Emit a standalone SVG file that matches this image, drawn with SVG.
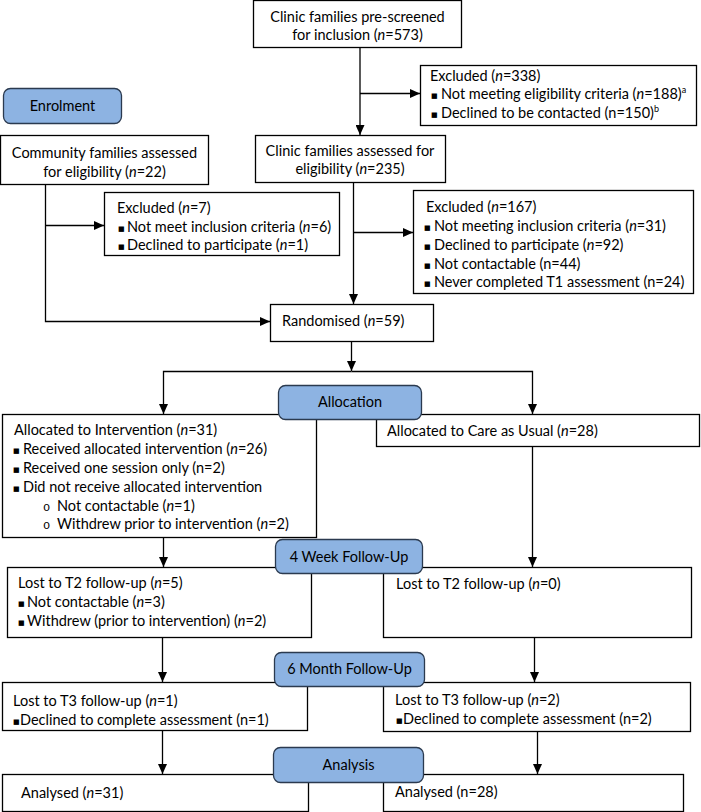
<svg xmlns="http://www.w3.org/2000/svg" width="701" height="812" viewBox="0 0 701 812">
<defs>
<marker id="arr" markerUnits="userSpaceOnUse" markerWidth="10" markerHeight="9" refX="10" refY="4.5" orient="auto">
<path d="M0,0 L10,4.5 L0,9 z" fill="#000"/>
</marker>
<style>
.box{fill:#fff;stroke:#000;stroke-width:1.3}
.stage{fill:#8db3e2;stroke:#2b3a4f;stroke-width:1.3}
.t{font-family:Lato,"Liberation Sans",sans-serif;font-size:14.5px;fill:#000}
.c{text-anchor:middle}
.b{font-family:"DejaVu Sans",sans-serif;font-size:7px}
.o{font-family:"Liberation Mono",monospace;font-size:12px}
.sup{font-size:9px}
.con{fill:none;stroke:#000;stroke-width:1.3;marker-end:url(#arr)}
</style>
</defs>
<rect width="701" height="812" fill="#fff"/>

<g id="prescreened">
<rect class="box" x="253.5" y="0.5" width="208" height="47"/>
<text class="t c" x="357.5" y="22">Clinic families pre-screened</text>
<text class="t c" x="357.5" y="40">for inclusion (<tspan font-style="italic">n</tspan>=573)</text>
</g>

<g id="excluded338">
<rect class="box" x="420.5" y="65.5" width="276" height="60"/>
<text class="t" x="430" y="81">Excluded (<tspan font-style="italic">n</tspan>=338)</text>
<text class="t" y="99"><tspan class="b" x="431" baseline-shift="1.5">■</tspan><tspan x="441">Not meeting eligibility criteria (<tspan font-style="italic">n</tspan>=188)</tspan><tspan class="sup" dy="-6">a</tspan></text>
<text class="t" y="118"><tspan class="b" x="431" baseline-shift="1.5">■</tspan><tspan x="441">Declined to be contacted (n=150)</tspan><tspan class="sup" dy="-6">b</tspan></text>
</g>

<g id="community">
<rect class="box" x="0.5" y="135.5" width="208" height="49"/>
<text class="t c" x="104.5" y="158">Community families assessed</text>
<text class="t c" x="104.5" y="177">for eligibility (<tspan font-style="italic">n</tspan>=22)</text>
</g>

<g id="clinicassessed">
<rect class="box" x="255.5" y="135.5" width="190" height="47"/>
<text class="t c" x="350" y="156">Clinic families assessed for</text>
<text class="t c" x="350" y="174">eligibility (<tspan font-style="italic">n</tspan>=235)</text>
</g>

<g id="excluded7">
<rect class="box" x="104.5" y="192.5" width="235" height="63"/>
<text class="t" x="117" y="213">Excluded (<tspan font-style="italic">n</tspan>=7)</text>
<text class="t" y="232"><tspan class="b" x="118" baseline-shift="1.5">■</tspan><tspan x="127">Not meet inclusion criteria (<tspan font-style="italic">n</tspan>=6)</tspan></text>
<text class="t" y="250"><tspan class="b" x="118" baseline-shift="1.5">■</tspan><tspan x="127">Declined to participate (<tspan font-style="italic">n</tspan>=1)</tspan></text>
</g>

<g id="excluded167">
<rect class="box" x="413.5" y="190.5" width="280" height="103"/>
<text class="t" x="426" y="212">Excluded (<tspan font-style="italic">n</tspan>=167)</text>
<text class="t" y="231"><tspan class="b" x="424" baseline-shift="1.5">■</tspan><tspan x="434">Not meeting inclusion criteria (<tspan font-style="italic">n</tspan>=31)</tspan></text>
<text class="t" y="250"><tspan class="b" x="424" baseline-shift="1.5">■</tspan><tspan x="434">Declined to participate (<tspan font-style="italic">n</tspan>=92)</tspan></text>
<text class="t" y="269"><tspan class="b" x="424" baseline-shift="1.5">■</tspan><tspan x="434">Not contactable (n=44)</tspan></text>
<text class="t" y="287"><tspan class="b" x="424" baseline-shift="1.5">■</tspan><tspan x="434">Never completed T1 assessment (n=24)</tspan></text>
</g>

<g id="randomised">
<rect class="box" x="270.5" y="304.5" width="163" height="37"/>
<text class="t" x="282" y="326">Randomised (<tspan font-style="italic">n</tspan>=59)</text>
</g>

<g id="intervention">
<rect class="box" x="2.5" y="414.5" width="314" height="123"/>
<text class="t" x="14" y="435">Allocated to Intervention (<tspan font-style="italic">n</tspan>=31)</text>
<text class="t" y="454"><tspan class="b" x="13" baseline-shift="1.5">■</tspan><tspan x="23">Received allocated intervention (<tspan font-style="italic">n</tspan>=26)</tspan></text>
<text class="t" y="473"><tspan class="b" x="13" baseline-shift="1.5">■</tspan><tspan x="23">Received one session only (n=2)</tspan></text>
<text class="t" y="492"><tspan class="b" x="13" baseline-shift="1.5">■</tspan><tspan x="23">Did not receive allocated intervention</tspan></text>
<text class="t" y="511"><tspan class="o" x="43">o</tspan><tspan x="57">Not contactable (<tspan font-style="italic">n</tspan>=1)</tspan></text>
<text class="t" y="529"><tspan class="o" x="43">o</tspan><tspan x="57">Withdrew prior to intervention (<tspan font-style="italic">n</tspan>=2)</tspan></text>
</g>

<g id="careasusual">
<rect class="box" x="376.5" y="414.5" width="323" height="32"/>
<text class="t" x="387" y="436">Allocated to Care as Usual (<tspan font-style="italic">n</tspan>=28)</text>
</g>

<g id="t2left">
<rect class="box" x="7.5" y="567.5" width="304" height="70"/>
<text class="t" x="18" y="588">Lost to T2 follow-up (<tspan font-style="italic">n</tspan>=5)</text>
<text class="t" y="607"><tspan class="b" x="18" baseline-shift="1.5">■</tspan><tspan x="27">Not contactable (<tspan font-style="italic">n</tspan>=3)</tspan></text>
<text class="t" y="626"><tspan class="b" x="18" baseline-shift="1.5">■</tspan><tspan x="27">Withdrew (prior to intervention) (<tspan font-style="italic">n</tspan>=2)</tspan></text>
</g>

<g id="t2right">
<rect class="box" x="383.5" y="567.5" width="308" height="70"/>
<text class="t" x="396" y="589">Lost to T2 follow-up (<tspan font-style="italic">n</tspan>=0)</text>
</g>

<g id="t3left">
<rect class="box" x="2.5" y="682.5" width="305" height="48"/>
<text class="t" x="13" y="706">Lost to T3 follow-up (<tspan font-style="italic">n</tspan>=1)</text>
<text class="t" y="725"><tspan class="b" x="13" baseline-shift="1.5">■</tspan><tspan x="20">Declined to complete assessment (n=1)</tspan></text>
</g>

<g id="t3right">
<rect class="box" x="383.5" y="682.5" width="307" height="49"/>
<text class="t" x="395" y="705">Lost to T3 follow-up (<tspan font-style="italic">n</tspan>=2)</text>
<text class="t" y="724"><tspan class="b" x="396" baseline-shift="1.5">■</tspan><tspan x="403">Declined to complete assessment (n=2)</tspan></text>
</g>

<g id="analysedleft">
<rect class="box" x="2.5" y="774.5" width="306" height="37"/>
<text class="t" x="21" y="798">Analysed (<tspan font-style="italic">n</tspan>=31)</text>
</g>

<g id="analysedright">
<rect class="box" x="383.5" y="774.5" width="300" height="37"/>
<text class="t" x="395" y="797">Analysed (n=28)</text>
</g>

<g id="connectors">
<path class="con" d="M360,47.5 V135"/>
<path class="con" d="M360,93.5 H420"/>
<path class="con" d="M45.5,184.5 V321.5 H270"/>
<path class="con" d="M45.5,225.5 H104"/>
<path class="con" d="M353.5,182.5 V304"/>
<path class="con" d="M353.5,232.5 H413"/>
<path class="con" d="M351.5,341.5 V371"/>
<path class="con" d="M351.5,371.5 H163.5 V414"/>
<path class="con" d="M351.5,371.5 H532.5 V414"/>
<path class="con" d="M163.5,537.5 V567"/>
<path class="con" d="M532.5,446.5 V567"/>
<path class="con" d="M162.5,637.5 V682"/>
<path class="con" d="M534.5,637.5 V682"/>
<path class="con" d="M162.5,730.5 V774"/>
<path class="con" d="M537.5,731.5 V774"/>
</g>

<g id="enrolment">
<rect class="stage" x="3.5" y="88.5" width="118" height="35" rx="7"/>
<text class="t c" x="62.5" y="111">Enrolment</text>
</g>
<g id="allocation">
<rect class="stage" x="278.5" y="385.5" width="143" height="34" rx="7"/>
<text class="t c" x="350" y="407">Allocation</text>
</g>
<g id="week4">
<rect class="stage" x="275.5" y="539.5" width="147" height="34" rx="7"/>
<text class="t c" x="349" y="562">4 Week Follow-Up</text>
</g>
<g id="month6">
<rect class="stage" x="274.5" y="652.5" width="150" height="34" rx="7"/>
<text class="t c" x="349.5" y="674">6 Month Follow-Up</text>
</g>
<g id="analysis">
<rect class="stage" x="273.5" y="747.5" width="150" height="35" rx="7"/>
<text class="t c" x="348.5" y="770">Analysis</text>
</g>
</svg>
